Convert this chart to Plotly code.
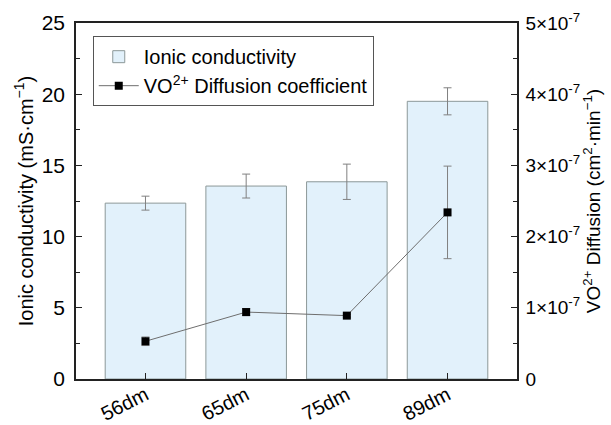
import plotly.graph_objects as go

categories = ["56dm", "65dm", "75dm", "89dm"]
ionic = [12.35, 13.55, 13.85, 19.5]
ionic_err = [0.49, 0.84, 1.24, 0.95]
diffusion = [0.53e-7, 0.94e-7, 0.89e-7, 2.34e-7]
diffusion_err = [0.06e-7, 0.05e-7, 0.02e-7, 0.65e-7]
right_tickvals = [0, 1e-7, 2e-7, 3e-7, 4e-7, 5e-7]
right_ticktext = ["0", "1×10<sup>-7</sup>", "2×10<sup>-7</sup>", "3×10<sup>-7</sup>",
                  "4×10<sup>-7</sup>", "5×10<sup>-7</sup>"]

FONT = "Liberation Sans, Arial, sans-serif"
AX = "#222222"

fig = go.Figure()
fig.add_trace(go.Bar(
    x=categories, y=ionic, name="Ionic conductivity",
    marker=dict(color="#e2f1fb", line=dict(color="#8c9898", width=1)),
    width=0.8,
    error_y=dict(type="data", array=ionic_err, color="#808080", thickness=1, width=4),
))
fig.add_trace(go.Scatter(
    x=categories, y=diffusion, name="VO<sup>2+</sup> Diffusion coefficient",
    yaxis="y2", mode="lines+markers",
    line=dict(color="#6e6e6e", width=1),
    marker=dict(symbol="square", size=8, color="black"),
    error_y=dict(type="data", array=diffusion_err, color="#808080", thickness=1, width=4),
))

fig.update_layout(
    width=611, height=425,
    margin=dict(l=76, r=94, t=23, b=46, autoexpand=False),
    paper_bgcolor="white", plot_bgcolor="white",
    font=dict(family=FONT, size=20, color="black"),
    showlegend=True,
    legend=dict(x=0.038, y=0.963, xanchor="left", yanchor="top",
                bordercolor="#555555", borderwidth=1, bgcolor="white",
                font=dict(size=20), tracegroupgap=0, itemwidth=40),
    xaxis=dict(range=[-0.69, 3.69], showline=True, linecolor=AX, linewidth=1.5,
               mirror=True, ticks="inside", ticklen=6, tickcolor=AX,
               tickangle=-27, showgrid=False, automargin=False,
               tickfont=dict(size=20), ticklabelstandoff=-5),
    yaxis=dict(range=[0, 25], tickvals=[0, 5, 10, 15, 20, 25], showline=True,
               linecolor=AX, linewidth=1.5, ticks="inside", ticklen=6,
               tickcolor=AX, showgrid=False, zeroline=False,
               tickfont=dict(size=21), ticklabelstandoff=5,
               minor=dict(tickvals=[2.5, 7.5, 12.5, 17.5, 22.5], ticks="inside",
                          ticklen=4, tickcolor=AX),
               title=dict(text="Ionic conductivity (mS·cm<sup>−1</sup>)", standoff=3,
                          font=dict(size=20)),
               automargin=False),
    yaxis2=dict(range=[0, 5e-7], overlaying="y", side="right",
                tickvals=right_tickvals, ticktext=right_ticktext,
                showline=True, linecolor=AX, linewidth=1.5,
                ticks="inside", ticklen=6, tickcolor=AX,
                showgrid=False, zeroline=False,
                tickfont=dict(size=19), ticklabelstandoff=3,
                minor=dict(tickvals=[0.5e-7, 1.5e-7, 2.5e-7, 3.5e-7, 4.5e-7],
                           ticks="inside", ticklen=4, tickcolor=AX),
                title=dict(text="VO<sup>2+</sup> Diffusion (cm<sup>2</sup>·min<sup>−1</sup>)",
                           standoff=4, font=dict(size=19)),
                automargin=False),
)

fig.write_html("out.html")
